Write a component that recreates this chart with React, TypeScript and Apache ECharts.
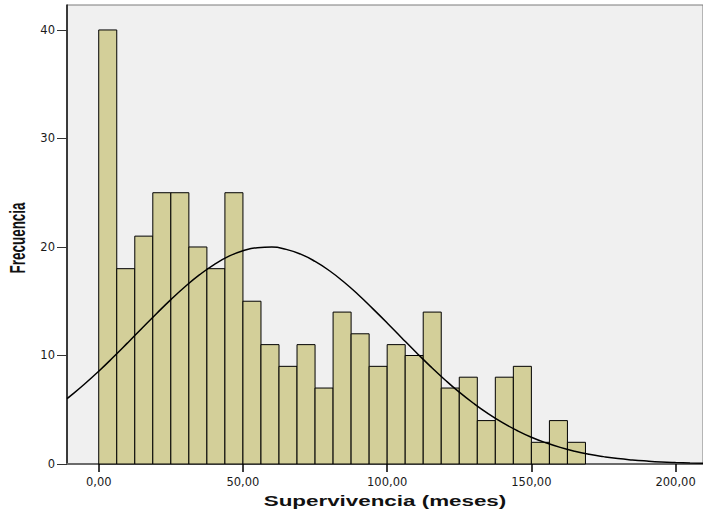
import React, { useEffect, useRef } from "react";
import * as echarts from "echarts";

// Histogram: bin width in months, counts per bin (starting at 0)
const binWidth = 6.25;
const counts = [40, 18, 21, 25, 25, 20, 18, 25, 15, 11, 9, 11, 7, 14, 12, 9, 11, 10, 14, 7, 8, 4, 8, 9, 2, 4, 2];

// Normal curve overlay
const curveX = [-11, -10, -5, 0, 5, 10, 15, 20, 25, 30, 35, 40, 45, 50, 55, 60, 65, 70, 75, 80, 85, 90, 95, 100, 105, 110, 115, 120, 125, 130, 135, 140, 145, 150, 155, 160, 165, 170, 175, 180, 185, 190, 195, 200, 205, 210];
const curveY = [6.03, 6.23, 7.35, 8.55, 9.83, 11.16, 12.51, 13.85, 15.15, 16.36, 17.45, 18.38, 19.13, 19.65, 19.94, 19.99, 19.78, 19.34, 18.67, 17.81, 16.77, 15.6, 14.32, 13.0, 11.64, 10.3, 9.0, 7.77, 6.62, 5.58, 4.64, 3.81, 3.09, 2.47, 1.96, 1.53, 1.18, 0.9, 0.68, 0.5, 0.37, 0.27, 0.19, 0.135, 0.095, 0.065];

const xTicks = [0, 50, 100, 150, 200];
const yTicks = [0, 10, 20, 30, 40];
const xTitle = "Supervivencia (meses)";
const yTitle = "Frecuencia";

const fmtX = (v: number) => v.toFixed(2).replace(".", ",");

export default function App() {
  const ref = useRef<HTMLDivElement>(null);
  useEffect(() => {
    if (!ref.current) return;
    const chart = echarts.init(ref.current, null, { renderer: "svg" });
    const barData = counts.map((c, i) => [i * binWidth, (i + 1) * binWidth, c]);
    const lineData = curveX.map((x, i) => [x, curveY[i]]);
    const labelFont = {
      fontFamily: "'DejaVu Sans', sans-serif",
      fontSize: 11.5,
      color: "#1a1a1a",
    };
    chart.setOption({
      animation: false,
      grid: {
        left: 67,
        right: 0,
        top: 5,
        bottom: 48,
        show: true,
        backgroundColor: "#F0F0F0",
        borderColor: "#7a7a7a",
        borderWidth: 1,
      },
      xAxis: {
        type: "value",
        min: -11,
        max: 209.5,
        splitLine: { show: false },
        axisLine: { show: true, onZero: false, lineStyle: { color: "#6b6b6b", width: 2 } },
        axisTick: {
          show: true,
          customValues: xTicks,
          length: 8,
          inside: false,
          lineStyle: { color: "#000", width: 1.5 },
        },
        axisLabel: {
          customValues: xTicks,
          formatter: (v: number) => fmtX(v),
          margin: 12,
          ...labelFont,
        },
      },
      yAxis: {
        type: "value",
        min: 0,
        max: 42.3,
        splitLine: { show: false },
        axisLine: { show: true, onZero: false, lineStyle: { color: "#111", width: 1.5 } },
        axisTick: {
          show: true,
          customValues: yTicks,
          length: 10,
          lineStyle: { color: "#333", width: 1 },
        },
        axisLabel: {
          customValues: yTicks,
          margin: 12,
          ...labelFont,
        },
      },
      graphic: [
        {
          type: "text",
          x: 385,
          y: 501,
          scaleX: 1.6,
          style: {
            text: xTitle,
            fontFamily: "'Liberation Sans', Arial, sans-serif",
            fontWeight: "bold",
            fontSize: 14,
            fill: "#111",
            textAlign: "center",
            textVerticalAlign: "middle",
          },
        },
        {
          type: "text",
          x: 18,
          y: 238,
          rotation: Math.PI / 2,
          scaleY: 1.6,
          style: {
            text: yTitle,
            fontFamily: "'Liberation Sans', Arial, sans-serif",
            fontWeight: "bold",
            fontSize: 13.5,
            fill: "#111",
            textAlign: "center",
            textVerticalAlign: "middle",
          },
        },
      ],
      series: [
        {
          type: "custom",
          data: barData,
          encode: { x: [0, 1], y: 2 },
          renderItem: (params: any, api: any) => {
            const x0 = api.value(0);
            const x1 = api.value(1);
            const c = api.value(2);
            const p0 = api.coord([x0, 0]);
            const p1 = api.coord([x1, c]);
            return {
              type: "rect",
              shape: { x: p0[0], y: p1[1], width: p1[0] - p0[0], height: p0[1] - p1[1] },
              style: { fill: "#D3CF99", stroke: "#000", lineWidth: 1 },
            };
          },
          z: 2,
        },
        {
          type: "line",
          data: lineData,
          smooth: true,
          showSymbol: false,
          clip: true,
          lineStyle: { color: "#000", width: 1.5 },
          z: 3,
        },
      ],
    });
    return () => chart.dispose();
  }, []);
  return (
    <div
      ref={ref}
      style={{ position: "absolute", left: 0, top: 0, width: 703, height: 512, background: "#fff" }}
    />
  );
}
